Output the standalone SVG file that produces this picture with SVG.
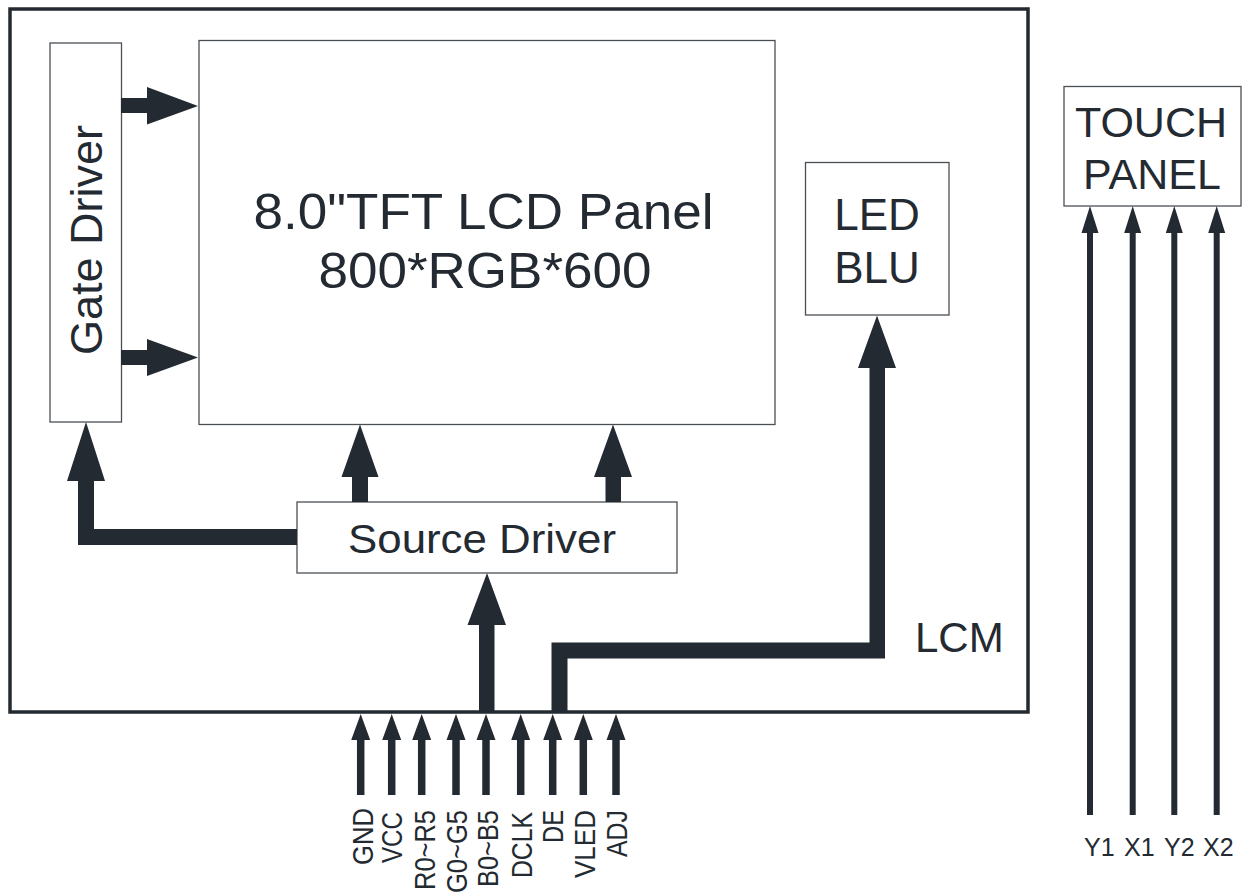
<svg xmlns="http://www.w3.org/2000/svg" width="1253" height="896" viewBox="0 0 1253 896">
<style>
.box{fill:#ffffff;stroke:#4a4f55;stroke-width:1.3}
.frame{fill:#ffffff;stroke:#232a31;stroke-width:3.5}
.c{fill:#232a31;stroke:none}
text{font-family:"Liberation Sans",Arial,sans-serif;fill:#232a31}
.sig{font-size:29px}
</style>
<defs>
<path id="sa" d="M-3.75,26 L3.75,26 L3.75,81 L-3.75,81 Z M-9.5,26 L0,0 L9.5,26 Z"/>
<path id="ta" d="M-3,26 L3,26 L3,609 L-3,609 Z M-8.5,27 L0,0 L8.5,27 Z"/>
</defs>
<rect width="1253" height="896" fill="#ffffff"/>
<g id="lcm">
<rect class="frame" x="10" y="9" width="1018" height="703"/>
<text x="915" y="652" font-size="42">LCM</text>
</g>
<g id="gate-driver">
<rect class="box" x="50" y="43" width="71.5" height="379"/>
<text transform="translate(101.5,240) rotate(-90)" text-anchor="middle" font-size="44" textLength="230" lengthAdjust="spacingAndGlyphs">Gate Driver</text>
</g>
<g id="lcd-panel">
<rect class="box" x="199" y="40.5" width="576" height="384"/>
<text x="483.5" y="228.5" text-anchor="middle" font-size="50" textLength="460" lengthAdjust="spacingAndGlyphs">8.0"TFT LCD Panel</text>
<text x="485" y="287.5" text-anchor="middle" font-size="50" textLength="333" lengthAdjust="spacingAndGlyphs">800*RGB*600</text>
</g>
<g id="led-blu">
<rect class="box" x="805.5" y="162.5" width="143.5" height="152.5"/>
<text x="877" y="230" text-anchor="middle" font-size="44">LED</text>
<text x="877" y="283" text-anchor="middle" font-size="44">BLU</text>
</g>
<g id="source-driver">
<rect class="box" x="297" y="502" width="380" height="71"/>
<text x="348" y="553" font-size="41" textLength="268" lengthAdjust="spacingAndGlyphs">Source Driver</text>
</g>
<g id="touch-panel">
<rect class="box" x="1064" y="86.5" width="177" height="119.5"/>
<text x="1151" y="137" text-anchor="middle" font-size="43">TOUCH</text>
<text x="1152" y="188.5" text-anchor="middle" font-size="43">PANEL</text>
</g>
<g id="connectors">
<path class="c" d="M121,98 L147,98 L147,113 L121,113 Z M147,87 L198,106 L147,124.5 Z"/>
<path class="c" d="M121,350 L147,350 L147,365 L121,365 Z M147,339 L198,357.5 L147,376 Z"/>
<path class="c" d="M78,481 L94,481 L94,529 L297,529 L297,545 L78,545 Z M67,481 L86,422 L105,481 Z"/>
<path class="c" d="M352,477 L368,477 L368,502 L352,502 Z M341.5,477 L360,424.5 L378.5,477 Z"/>
<path class="c" d="M605.5,477 L621,477 L621,502 L605.5,502 Z M594,477 L613,424.5 L632,477 Z"/>
<path class="c" d="M479,625 L494.5,625 L494.5,712 L479,712 Z M467.5,625 L487,573 L506,625 Z"/>
<path class="c" d="M551.5,712 L551.5,642.5 L869.5,642.5 L869.5,368 L885,368 L885,658.5 L567.5,658.5 L567.5,712 Z M858,368 L877,315.5 L896,368 Z"/>
<use href="#sa" class="c" x="360.7" y="714"/>
<use href="#sa" class="c" x="391.7" y="714"/>
<use href="#sa" class="c" x="421.7" y="714"/>
<use href="#sa" class="c" x="456" y="714"/>
<use href="#sa" class="c" x="486" y="714"/>
<use href="#sa" class="c" x="520.7" y="714"/>
<use href="#sa" class="c" x="552.7" y="714"/>
<use href="#sa" class="c" x="583.3" y="714"/>
<use href="#sa" class="c" x="616" y="714"/>
<use href="#ta" class="c" x="1090" y="206"/>
<use href="#ta" class="c" x="1132.7" y="206"/>
<use href="#ta" class="c" x="1174.3" y="206"/>
<use href="#ta" class="c" x="1216.7" y="206"/>
</g>
<g id="signal-labels">
<text class="sig" transform="translate(373,808) rotate(-90)" text-anchor="end" textLength="57" lengthAdjust="spacingAndGlyphs">GND</text>
<text class="sig" transform="translate(401.5,812) rotate(-90)" text-anchor="end" textLength="51" lengthAdjust="spacingAndGlyphs">VCC</text>
<text class="sig" transform="translate(435,810) rotate(-90)" text-anchor="end" textLength="80" lengthAdjust="spacingAndGlyphs">R0~R5</text>
<text class="sig" transform="translate(466.5,810) rotate(-90)" text-anchor="end" textLength="83" lengthAdjust="spacingAndGlyphs">G0~G5</text>
<text class="sig" transform="translate(497.5,810) rotate(-90)" text-anchor="end" textLength="77" lengthAdjust="spacingAndGlyphs">B0~B5</text>
<text class="sig" transform="translate(531.5,812) rotate(-90)" text-anchor="end" textLength="66" lengthAdjust="spacingAndGlyphs">DCLK</text>
<text class="sig" transform="translate(562.5,810) rotate(-90)" text-anchor="end" textLength="33" lengthAdjust="spacingAndGlyphs">DE</text>
<text class="sig" transform="translate(595,810) rotate(-90)" text-anchor="end" textLength="68" lengthAdjust="spacingAndGlyphs">VLED</text>
<text class="sig" transform="translate(626.5,810) rotate(-90)" text-anchor="end" textLength="47" lengthAdjust="spacingAndGlyphs">ADJ</text>
</g>
<g id="touch-labels">
<text x="1084" y="856" font-size="25">Y1</text>
<text x="1124" y="856" font-size="25">X1</text>
<text x="1164" y="856" font-size="25">Y2</text>
<text x="1203" y="856" font-size="25">X2</text>
</g>
</svg>
